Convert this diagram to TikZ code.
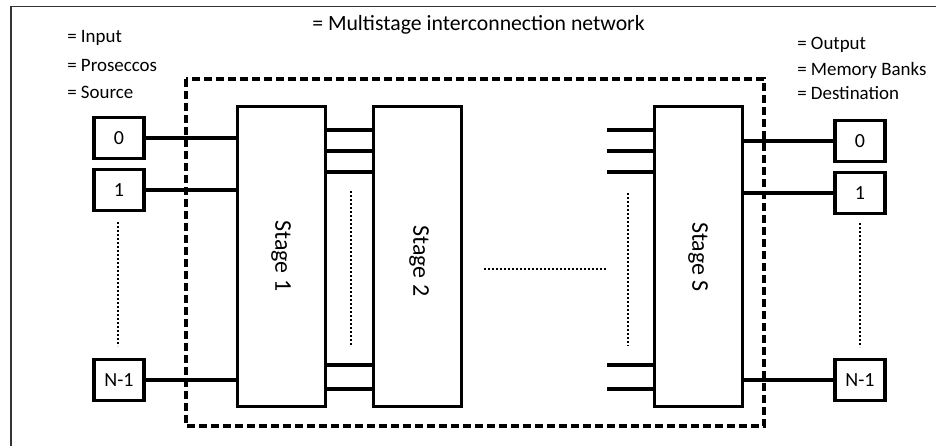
\documentclass[tikz,border=0pt]{standalone}
\usepackage{fontspec}
\setmainfont{Carlito}
\usetikzlibrary{positioning,calc}

\tikzset{
  unitbox/.style={draw, line width=2.7pt, minimum width=37.5pt, minimum height=30.5pt,
    inner sep=0pt, font=\fontsize{15}{18}\selectfont},
  stagebox/.style={draw, line width=2.7pt, minimum width=66pt, minimum height=225pt, inner sep=0pt},
  stagetext/.style={rotate=-90, inner sep=0pt, font=\fontsize{18}{21}\selectfont},
  wire/.style={line width=2.7pt},
  dots/.style={line width=2pt, dash pattern=on 1.6pt off 1.4pt},
  legend/.style={anchor=west, inner sep=0pt, font=\fontsize{14.2}{17}\selectfont},
}

\begin{document}
\begin{tikzpicture}[x=0.75pt, y=-0.75pt]
  \useasboundingbox (0,0) rectangle (936,446);
  % Frame (cropped)
  \draw[line width=1.3pt, black!80] (11,446) -- (11,6.5) -- (936,6.5);
  % Network boundary
  \draw[line width=2.7pt, dash pattern=on 6pt off 3pt] (186,79) rectangle (764,426);
  % Legends
  \node[legend, font=\fontsize{16.3}{19}\selectfont] (title) at (312,25) {= Multistage interconnection network};
  \node[legend] (inA) at (67,38) {= Input};
  \node[legend] (inB) at (67,65) {= Proseccos};
  \node[legend] (inC) at (67,92) {= Source};
  \node[legend] (outA) at (797,45) {= Output};
  \node[legend] (outB) at (797,70) {= Memory Banks};
  \node[legend] (outC) at (797,93) {= Destination};
  % Sources
  \node[unitbox] (in0) at (119,138) {0};
  \node[unitbox] (in1) at (119,190) {1};
  \node[unitbox] (inN) at (119,380) {N-1};
  % Stages
  \node[stagebox] (st1) at (281.5,256.5) {};
  \node[stagebox] (st2) at (417.5,256.5) {};
  \node[stagebox] (stS) at (698.5,256.5) {};
  \node[stagetext] (st1txt) at (281,256) {Stage 1};
  \node[stagetext] (st2txt) at (419,261) {Stage 2};
  \node[stagetext] (stStxt) at (698,257) {Stage S};
  % Destinations
  \node[unitbox] (out0) at (860,141) {0};
  \node[unitbox] (out1) at (860,193) {1};
  \node[unitbox] (outN) at (860,380) {N-1};
  % Input wires
  \foreach \n in {in0,in1,inN}
    \draw[wire] (\n.east) -- (\n.east -| st1.west);
  % Output wires
  \foreach \n in {out0,out1,outN}
    \draw[wire] (\n.west -| stS.east) -- (\n.west);
  % Wires between stages
  \foreach \y in {130,151,172,365,389} {
    \draw[wire] (st1.east |- 0,\y) -- (st2.west |- 0,\y);
    \coordinate (stub\y) at (607,\y);
    \draw[wire] (stub\y) -- (stub\y -| stS.west);
  }
  % Ellipses
  \draw[dots] (118,222) -- (118,346);
  \draw[dots] (860,223) -- (860,347);
  \draw[dots] (351,191) -- (351,346);
  \draw[dots] (628,193) -- (628,346);
  \draw[dots] (484,269) -- (607,269);
\end{tikzpicture}
\end{document}
